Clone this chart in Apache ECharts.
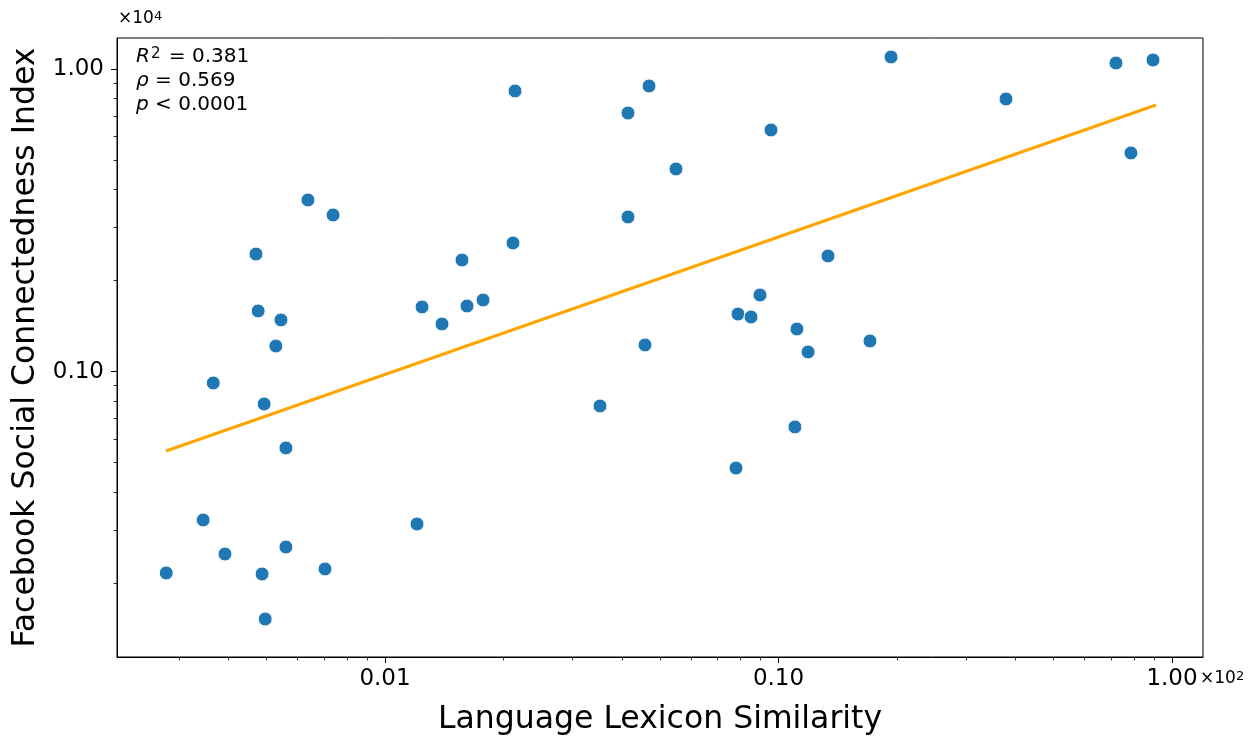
<!DOCTYPE html>
<html><head><meta charset="utf-8">
<script src="https://cdn.jsdelivr.net/npm/echarts@6/dist/echarts.min.js"></script>
<style>html,body{margin:0;padding:0;background:#fff}#c{width:1260px;height:736px}</style>
</head><body><div id="c"></div>
<script>
// Displayed units: x in ×10^2, y in ×10^4
const lexiconSimilarity = [
  0.00278, 0.00345, 0.00366, 0.00392, 0.00470, 0.00476, 0.00487, 0.00493, 0.00496,
  0.00528, 0.00544, 0.00560, 0.00560, 0.00637, 0.00704, 0.00738,
  0.01206, 0.01242, 0.01396, 0.01569, 0.01616, 0.01775, 0.02115, 0.02140,
  0.03519, 0.04145, 0.04145, 0.04579, 0.04688, 0.05489,
  0.07798, 0.07890, 0.08514, 0.08974, 0.09570,
  0.1101, 0.1114, 0.1189, 0.1336, 0.1708, 0.1932,
  0.3786, 0.7205, 0.7865, 0.8949
];
const socialConnectedness = [
  0.0216, 0.03233, 0.09175, 0.02495, 0.2449, 0.1588, 0.02143, 0.07819, 0.01521,
  0.1216, 0.1483, 0.05595, 0.02632, 0.3697, 0.02227, 0.3298,
  0.03136, 0.1637, 0.1438, 0.2340, 0.1649, 0.1726, 0.2665, 0.8477,
  0.07701, 0.7167, 0.3248, 0.1226, 0.8806, 0.4681,
  0.04801, 0.1551, 0.1517, 0.1793, 0.6300,
  0.06566, 0.1384, 0.1162, 0.2414, 0.1263, 1.098,
  0.7977, 1.049, 0.5288, 1.0735
];
const fitLineX = [0.002777, 0.9107];
const fitLineY = [0.05467, 0.7620];
const xTickValues = [0.01, 0.1, 1];
const yTickValues = [0.1, 1];
const xMinorTickValues = [0.003,0.004,0.005,0.006,0.007,0.008,0.009,0.02,0.03,0.04,0.05,0.06,0.07,0.08,0.09,0.2,0.3,0.4,0.5,0.6,0.7,0.8,0.9];
const yMinorTickValues = [0.02,0.03,0.04,0.05,0.06,0.07,0.08,0.09,0.2,0.3,0.4,0.5,0.6,0.7,0.8,0.9];
const statsLines = ['{i|R}{s|2}{n| = 0.381}', '{i|\u03c1}{n| = 0.569}', '{i|p}{n| < 0.0001}'];
const xOffsetText = '{n|\u00d710}{s|2}';
const yOffsetText = '{n|\u00d710}{s|4}';
const xTitle = 'Language Lexicon Similarity';
const yTitle = 'Facebook Social Connectedness Index';

const FONT = 'DejaVu Sans';
const X_MIN = 0.002084, X_MAX = 1.199, Y_MIN = 0.01139, Y_MAX = 1.269;

const chart = echarts.init(document.getElementById('c'), null, {renderer: 'canvas'});
const fmt = v => Number(v).toFixed(2);

const statRich = {
  i: {fontStyle: 'italic', fontSize: 20, lineHeight: 20, fontFamily: FONT, color: '#000'},
  n: {fontSize: 20, lineHeight: 20, fontFamily: FONT, color: '#000'},
  s: {fontSize: 15, lineHeight: 8, verticalAlign: 'top', fontFamily: FONT, color: '#000', padding: [0, 2, 0, 1]}
};
const offRich = {
  n: {fontSize: 17, lineHeight: 17, fontFamily: FONT, color: '#000'},
  s: {fontSize: 13, lineHeight: 6, verticalAlign: 'top', fontFamily: FONT, color: '#000'}
};

const option = {
  animation: false,
  backgroundColor: '#fff',
  grid: {left: 117, top: 38, width: 1086, height: 619, show: true, borderColor: '#000', borderWidth: 1, backgroundColor: 'transparent', containLabel: false, outerBoundsMode: 'none'},
  xAxis: [
    {
      type: 'log', logBase: 10, min: X_MIN, max: X_MAX, position: 'bottom',
      axisLine: {show: true, lineStyle: {color: '#000', width: 1}},
      axisTick: {show: true, customValues: xTickValues, length: 6, lineStyle: {color: '#000', width: 1}},
      axisLabel: {customValues: xTickValues, formatter: fmt, fontSize: 23, color: '#000', fontFamily: FONT, margin: 11},
      splitLine: {show: false}, minorTick: {show: false},
      name: xTitle, nameLocation: 'middle', nameGap: 63,
      nameTextStyle: {fontSize: 31.5, color: '#000', fontFamily: FONT, verticalAlign: 'middle'}
    },
    {
      type: 'log', logBase: 10, min: X_MIN, max: X_MAX, position: 'bottom',
      axisLine: {show: false},
      axisTick: {show: true, customValues: xMinorTickValues, length: 3.5, lineStyle: {color: '#000', width: 0.8}},
      axisLabel: {show: false}, splitLine: {show: false}
    }
  ],
  yAxis: [
    {
      type: 'log', logBase: 10, min: Y_MIN, max: Y_MAX, position: 'left',
      axisLine: {show: true, lineStyle: {color: '#000', width: 1}},
      axisTick: {show: true, customValues: yTickValues, length: 6, lineStyle: {color: '#000', width: 1}},
      axisLabel: {customValues: yTickValues, formatter: fmt, fontSize: 23, color: '#000', fontFamily: FONT, margin: 13},
      splitLine: {show: false}, minorTick: {show: false},
      name: yTitle, nameLocation: 'middle', nameGap: 79, nameRotate: 90,
      nameTextStyle: {fontSize: 31.5, color: '#000', fontFamily: FONT, verticalAlign: 'middle'}
    },
    {
      type: 'log', logBase: 10, min: Y_MIN, max: Y_MAX, position: 'left',
      axisLine: {show: false},
      axisTick: {show: true, customValues: yMinorTickValues, length: 3.5, lineStyle: {color: '#000', width: 0.8}},
      axisLabel: {show: false}, splitLine: {show: false}
    }
  ],
  series: [
    {
      type: 'scatter', xAxisIndex: 0, yAxisIndex: 0,
      data: lexiconSimilarity.map((x, i) => [x, socialConnectedness[i]]),
      symbolSize: 14,
      itemStyle: {color: '#1f77b4', borderColor: '#ffffff', borderWidth: 1, opacity: 1},
      z: 2
    },
    {
      type: 'line', xAxisIndex: 0, yAxisIndex: 0,
      data: fitLineX.map((x, i) => [x, fitLineY[i]]),
      showSymbol: false, symbol: 'none',
      lineStyle: {color: '#ffa500', width: 3},
      z: 3
    }
  ],
  graphic: [
    ...statsLines.map((t, i) => ({
      type: 'text', left: 136, top: 47 + i * 24,
      style: {text: t, rich: statRich, fill: '#000', font: '20px "DejaVu Sans"'}
    })),
    {type: 'text', left: 118, top: 10, style: {text: yOffsetText, rich: offRich, fill: '#000', font: '17px "DejaVu Sans"'}},
    {type: 'text', left: 1200, top: 670, style: {text: xOffsetText, rich: offRich, fill: '#000', font: '17px "DejaVu Sans"'}}
  ]
};
chart.setOption(option);
</script>
</body></html>
